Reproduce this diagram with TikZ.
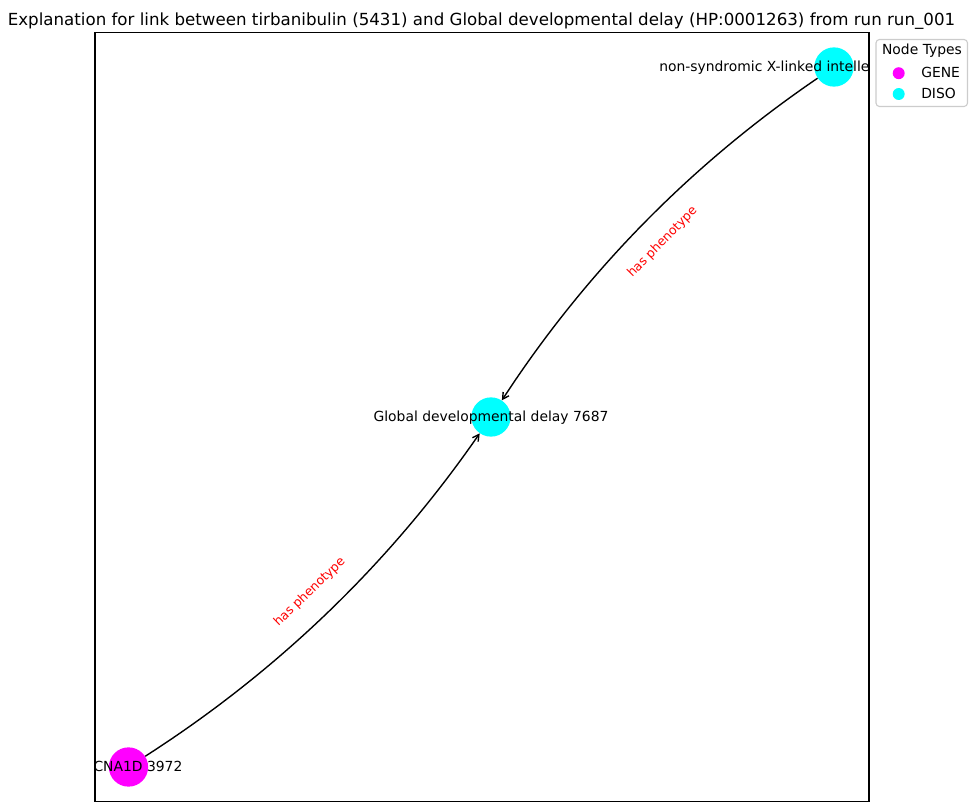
\documentclass[tikz,border=0pt]{standalone}
\usepackage{fontspec}
\setmainfont{DejaVu Sans}
\usetikzlibrary{arrows.meta,calc}
\definecolor{genecol}{HTML}{FF00FF}
\definecolor{disocol}{HTML}{00FFFF}
\definecolor{legframe}{HTML}{CCCCCC}
\tikzset{
  nodedot/.style={circle, draw=none, minimum size=28.28pt, inner sep=0pt},
  genenode/.style={nodedot, fill=genecol},
  disonode/.style={nodedot, fill=disocol},
  edgeline/.style={draw=black, line width=1pt, -{Straight Barb[length=4.5pt,width=5pt]}},
  nodelabel/.style={inner sep=0pt, font=\fontsize{10pt}{12pt}\selectfont, text=black},
  edgelabel/.style={inner sep=0pt, font=\fontsize{9pt}{11pt}\selectfont, text=red},
  titletext/.style={inner sep=0pt, font=\fontsize{12pt}{14pt}\selectfont},
  legtext/.style={inner sep=0pt, font=\fontsize{10pt}{12pt}\selectfont},
  legdot/.style={circle, draw=none, minimum size=8.6pt, inner sep=0pt},
}
\begin{document}
\begin{tikzpicture}[x=0.72pt, y=-0.72pt]
\useasboundingbox (0,0) rectangle (976,812);
% title
\node[titletext, anchor=base] (title) at (481.5,25) {Explanation for link between tirbanibulin (5431) and Global developmental delay (HP:0001263) from run run\_001};
% axes frame
\draw[line width=0.8pt] (95,32.5) rectangle (869,801.5);
% nodes
\node[genenode] (c) at (128.5,767) {};
\node[disonode] (g) at (491,417) {};
\node[disonode] (n) at (834,67) {};
% edges
\draw[edgeline] (c) to[bend right=11.31, looseness=0.868] (g);
\draw[edgeline] (n) to[bend right=11.31, looseness=0.868] (g);
% edge labels
\node[edgelabel, rotate=43.96] (e1) at ($(c)!0.5!(g)$) {has phenotype};
\node[edgelabel, rotate=45.58] (e2) at ($(n)!0.5!(g)$) {has phenotype};
% node labels, clipped to the axes
\begin{scope}
\clip (95,32.5) rectangle (869,801.5);
\node[nodelabel, anchor=base] (lc) at (128.5,771.5) {CACNA1D 3972};
\node[nodelabel, anchor=base] (lg) at (491,421.5) {Global developmental delay 7687};
\node[nodelabel, anchor=base west] (ln) at (659,71.5) {non-syndromic X-linked intelle};
\end{scope}
% legend
\draw[draw=legframe, fill=white, line width=0.8pt, rounded corners=2.5pt] (876,39.5) rectangle (967.5,106.5);
\node[legtext, anchor=base] (legtitle) at (922,54.7) {Node Types};
\node[legdot, fill=genecol] (lgene) at (898.7,73.2) {};
\node[legdot, fill=disocol] (ldiso) at (898.7,94) {};
\node[legtext, anchor=base west] (tgene) at (921,77.3) {GENE};
\node[legtext, anchor=base west] (tdiso) at (921,98) {DISO};
\end{tikzpicture}
\end{document}
